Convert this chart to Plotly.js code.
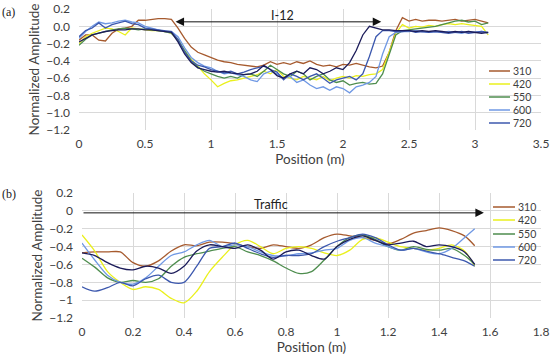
<!DOCTYPE html>
<html><head><meta charset="utf-8">
<script src="https://cdn.plot.ly/plotly-3.0.1.min.js"></script>
<style>html,body{margin:0;padding:0;background:#fff}#chart{width:550px;height:355px}</style>
</head><body><div id="chart"></div>
<script>
// ---------- DATA ----------
const seriesNames = ['310', '420', '550', '600', '720'];

// Panel (a) positions (m)
const xA = [0,0.05,0.1,0.15,0.2,0.25,0.3,0.35,0.4,0.45,0.5,0.55,0.6,0.65,0.7,0.75,0.8,0.85,0.9,0.95,
  1.0,1.05,1.1,1.15,1.2,1.25,1.3,1.35,1.4,1.45,1.5,1.55,1.6,1.65,1.7,1.75,1.8,1.85,1.9,1.95,
  2.0,2.05,2.1,2.15,2.2,2.25,2.3,2.35,2.4,2.45,2.5,2.55,2.6,2.65,2.7,2.75,2.8,2.85,2.9,2.95,3.0,3.05,3.1];

const a310 = [-0.16,-0.10,-0.10,-0.16,-0.17,-0.08,-0.03,-0.02,0.00,0.07,0.07,0.08,0.09,0.09,0.08,
  -0.02,-0.14,-0.24,-0.30,-0.33,-0.36,-0.39,-0.41,-0.42,-0.44,-0.45,-0.46,-0.47,-0.45,-0.41,
  -0.44,-0.42,-0.44,-0.41,-0.43,-0.40,-0.44,-0.46,-0.45,-0.47,-0.44,-0.45,-0.43,-0.45,-0.47,
  -0.48,-0.46,-0.30,-0.05,0.10,0.06,0.08,0.06,0.07,0.07,0.06,0.07,0.08,0.06,0.07,0.08,0.06,0.04];
const a420 = [-0.20,-0.12,-0.08,-0.05,-0.02,-0.03,-0.06,-0.10,-0.02,-0.03,-0.04,-0.05,-0.05,-0.06,-0.08,
  -0.15,-0.28,-0.38,-0.46,-0.55,-0.62,-0.70,-0.66,-0.63,-0.62,-0.60,-0.58,-0.56,-0.52,-0.55,
  -0.50,-0.58,-0.60,-0.62,-0.58,-0.60,-0.62,-0.58,-0.63,-0.60,-0.58,-0.60,-0.57,-0.58,-0.56,
  -0.55,-0.50,-0.30,-0.08,0.02,-0.02,0.00,-0.01,0.01,0.00,0.02,0.03,0.02,0.03,0.02,0.01,0.00,-0.10];
const a550 = [-0.22,-0.15,-0.10,-0.08,-0.06,-0.04,-0.03,-0.02,-0.03,-0.04,-0.03,-0.04,-0.05,-0.06,-0.08,
  -0.16,-0.28,-0.40,-0.47,-0.52,-0.55,-0.58,-0.60,-0.58,-0.60,-0.56,-0.55,-0.58,-0.52,-0.45,
  -0.50,-0.55,-0.58,-0.52,-0.55,-0.62,-0.58,-0.55,-0.62,-0.65,-0.63,-0.68,-0.66,-0.65,-0.67,
  -0.66,-0.55,-0.32,-0.10,-0.05,-0.04,-0.03,-0.02,-0.01,0.00,0.02,0.04,0.06,0.07,0.05,0.06,0.02,0.04];
const a600 = [-0.14,-0.06,0.00,0.05,0.03,0.04,0.06,0.07,0.05,0.04,0.00,-0.02,-0.04,-0.06,-0.06,
  -0.12,-0.25,-0.36,-0.42,-0.46,-0.48,-0.52,-0.55,-0.54,-0.56,-0.58,-0.62,-0.64,-0.55,-0.52,
  -0.55,-0.60,-0.58,-0.65,-0.62,-0.68,-0.72,-0.70,-0.74,-0.70,-0.72,-0.77,-0.70,-0.68,-0.65,
  -0.58,-0.32,-0.12,-0.07,-0.06,-0.06,-0.05,-0.06,-0.07,-0.06,-0.07,-0.06,-0.07,-0.08,-0.06,-0.07,-0.06,-0.08];
const a720 = [-0.12,-0.05,-0.02,0.04,-0.02,0.02,0.04,0.06,0.03,0.02,-0.02,-0.03,-0.04,-0.05,-0.06,
  -0.15,-0.30,-0.40,-0.45,-0.47,-0.50,-0.52,-0.54,-0.52,-0.55,-0.53,-0.50,-0.48,-0.46,-0.50,
  -0.53,-0.62,-0.55,-0.58,-0.62,-0.58,-0.55,-0.60,-0.66,-0.62,-0.60,-0.58,-0.62,-0.55,-0.35,
  -0.12,-0.05,-0.05,-0.06,-0.06,-0.05,-0.07,-0.06,-0.07,-0.06,-0.07,-0.08,-0.07,-0.06,-0.08,-0.07,-0.06,-0.07];
const aDark = [-0.18,-0.14,-0.10,-0.08,-0.06,-0.05,-0.04,-0.04,-0.03,-0.03,-0.04,-0.04,-0.05,-0.06,-0.07,
  -0.18,-0.32,-0.42,-0.48,-0.50,-0.52,-0.53,-0.52,-0.54,-0.55,-0.56,-0.55,-0.52,-0.45,-0.50,
  -0.57,-0.60,-0.55,-0.52,-0.55,-0.48,-0.50,-0.55,-0.52,-0.48,-0.50,-0.42,-0.28,-0.10,0.00,
  -0.02,-0.04,-0.04,-0.05,-0.05,-0.05,-0.06,-0.05,-0.06,-0.05,-0.06,-0.07,-0.06,-0.07,-0.06,-0.07,-0.08,-0.07];

// Panel (b) positions (m)
const xB = [0,0.05,0.1,0.15,0.2,0.25,0.3,0.35,0.4,0.45,0.5,0.55,0.6,0.65,0.7,0.75,0.8,0.85,0.9,0.95,
  1.0,1.05,1.1,1.15,1.2,1.25,1.3,1.35,1.4,1.45,1.5,1.54];

const b310 = [-0.47,-0.46,-0.46,-0.46,-0.58,-0.62,-0.56,-0.45,-0.38,-0.39,-0.35,-0.35,-0.37,-0.40,-0.42,-0.38,
  -0.40,-0.42,-0.38,-0.30,-0.26,-0.28,-0.30,-0.33,-0.37,-0.32,-0.25,-0.22,-0.19,-0.22,-0.28,-0.39];
const b420 = [-0.27,-0.45,-0.68,-0.80,-0.88,-0.85,-0.88,-0.98,-1.03,-0.90,-0.68,-0.52,-0.38,-0.33,-0.40,-0.48,
  -0.42,-0.40,-0.42,-0.47,-0.50,-0.44,-0.32,-0.30,-0.35,-0.40,-0.42,-0.44,-0.42,-0.38,-0.45,-0.62];
const b550 = [-0.53,-0.63,-0.75,-0.80,-0.78,-0.80,-0.76,-0.62,-0.52,-0.48,-0.45,-0.42,-0.40,-0.46,-0.50,-0.56,
  -0.64,-0.70,-0.68,-0.55,-0.40,-0.30,-0.27,-0.32,-0.40,-0.44,-0.40,-0.43,-0.44,-0.42,-0.50,-0.60];
const b600 = [-0.36,-0.55,-0.72,-0.80,-0.82,-0.75,-0.62,-0.50,-0.46,-0.38,-0.33,-0.40,-0.38,-0.40,-0.46,-0.50,
  -0.50,-0.48,-0.47,-0.44,-0.42,-0.33,-0.30,-0.36,-0.40,-0.44,-0.42,-0.46,-0.48,-0.42,-0.30,-0.20];
const b720 = [-0.85,-0.90,-0.86,-0.80,-0.84,-0.76,-0.72,-0.80,-0.80,-0.62,-0.42,-0.40,-0.36,-0.42,-0.48,-0.52,
  -0.50,-0.50,-0.48,-0.40,-0.34,-0.30,-0.26,-0.30,-0.38,-0.44,-0.42,-0.45,-0.48,-0.52,-0.56,-0.62];
const bDark = [-0.47,-0.50,-0.58,-0.64,-0.66,-0.62,-0.64,-0.70,-0.62,-0.45,-0.38,-0.40,-0.42,-0.38,-0.44,-0.54,
  -0.46,-0.44,-0.50,-0.54,-0.40,-0.32,-0.28,-0.33,-0.38,-0.36,-0.34,-0.40,-0.38,-0.40,-0.46,-0.60];

// Axis tick values
const yTicks = [0.2,0,-0.2,-0.4,-0.6,-0.8,-1.0,-1.2];
const xTicksA = [0,0.5,1,1.5,2,2.5,3,3.5];
const xTicksB = [0,0.2,0.4,0.6,0.8,1,1.2,1.4,1.6,1.8];

// Annotation positions (data units)
const arrowA = {from: 0.72, to: 2.29, y: 0.052, label: 'I-12', labelX: 1.54, labelY: 0.125};
const arrowB = {from: 0, to: 1.576, y: -0.022, label: 'Traffic', labelX: 0.74, labelY: 0.072};

// ---------- STYLE ----------
const colors = ['#a65a2e', '#eaf01c', '#4e8d4e', '#6f98e4', '#3c58ae', '#1c1c5a'];
const seriesA = [a310, a420, a550, a600, a720, aDark];
const seriesB = [b310, b420, b550, b600, b720, bDark];
const W = 550, H = 355, L = 79, R = 9, T = 9, B = 37;
const plotW = W - L - R, plotH = H - T - B;
// pixel frame of each panel
const aTop = T, aBot = 130, bTop = 193, bBot = 318, bLeft = 82;

const traces = [];
seriesA.forEach((ys, i) => traces.push({
  x: xA, y: ys, xaxis: 'x', yaxis: 'y', type: 'scatter', mode: 'lines',
  name: seriesNames[i] || '', line: {color: colors[i], width: 1.3}, showlegend: false, hoverinfo: 'skip'
}));
seriesB.forEach((ys, i) => traces.push({
  x: xB, y: ys, xaxis: 'x2', yaxis: 'y2', type: 'scatter', mode: 'lines',
  name: seriesNames[i] || '', line: {color: colors[i], width: 1.3, shape: 'spline', smoothing: 0.8},
  showlegend: false, hoverinfo: 'skip'
}));

const fam = 'Lato, "Liberation Sans", sans-serif';
const tickFont = {family: fam, size: 12, color: '#404040'};
const titleFont = {family: fam, size: 13.5, color: '#404040'};
const gridC = '#d9d9d9';

function xAxisDef(range, ticks, domain, anchor) {
  return {domain: domain, anchor: anchor, range: range, tickmode: 'array', tickvals: ticks,
    showgrid: true, gridcolor: gridC, gridwidth: 1, zeroline: false, showline: false, ticks: '',
    tickfont: tickFont, ticklabelstandoff: 5, ticklabeloverflow: 'allow', fixedrange: true,
    title: {text: 'Position (m)', font: titleFont, standoff: 1}};
}
function yAxisDef(domain, anchor, fmt) {
  const ax = {domain: domain, anchor: anchor, range: [-1.2, 0.2005], tickmode: 'array', tickvals: yTicks,
    showgrid: true, gridcolor: gridC, gridwidth: 1, zeroline: false, showline: false, ticks: '',
    tickfont: tickFont, ticklabelstandoff: 8, ticklabeloverflow: 'allow', fixedrange: true,
    title: {text: 'Normalized Amplitude', font: titleFont, standoff: 3}};
  if (fmt) ax.tickformat = fmt;
  return ax;
}

const annotations = [];
const shapes = [];
// panel labels
annotations.push({xref: 'paper', yref: 'paper', x: -L / plotW, y: (H - B - 12) / plotH, xanchor: 'left', yanchor: 'middle',
  text: '(a)', showarrow: false, font: {family: '"Liberation Serif", serif', size: 12, color: '#222'}});
annotations.push({xref: 'paper', yref: 'paper', x: -L / plotW, y: (H - B - 194) / plotH, xanchor: 'left', yanchor: 'middle',
  text: '(b)', showarrow: false, font: {family: '"Liberation Serif", serif', size: 12, color: '#222'}});
// arrows
annotations.push({xref: 'x', yref: 'y', axref: 'x', ayref: 'y', x: arrowA.to, y: arrowA.y, ax: arrowA.from, ay: arrowA.y,
  text: '', showarrow: true, arrowhead: 2, startarrowhead: 2, arrowside: 'end+start', arrowsize: 1.7, startarrowsize: 1.7,
  arrowwidth: 1, arrowcolor: '#111', standoff: 0, startstandoff: 0});
annotations.push({xref: 'x', yref: 'y', x: arrowA.labelX, y: arrowA.labelY, text: arrowA.label, showarrow: false,
  font: {family: fam, size: 12.5, color: '#222'}});
annotations.push({xref: 'x2', yref: 'y2', axref: 'x2', ayref: 'y2', x: arrowB.to, y: arrowB.y, ax: arrowB.from, ay: arrowB.y,
  text: '', showarrow: true, arrowhead: 2, arrowsize: 1.7, arrowwidth: 1, arrowcolor: '#111', standoff: 0});
annotations.push({xref: 'x2', yref: 'y2', x: arrowB.labelX, y: arrowB.labelY, text: arrowB.label, showarrow: false,
  font: {family: fam, size: 12.5, color: '#222'}});

// legends (drawn to match Excel's compact spacing)
function addLegend(xr, yr, left, top, bottom, right, lineX0, lineX1, textX, rows) {
  seriesNames.forEach((nm, i) => {
    const yd = (bottom - rows[i]) / (bottom - top);
    shapes.push({type: 'line', xref: xr + ' domain', yref: yr + ' domain',
      x0: (lineX0 - left) / (right - left), x1: (lineX1 - left) / (right - left), y0: yd, y1: yd,
      line: {color: colors[i], width: 1.5}});
    annotations.push({xref: xr + ' domain', yref: yr + ' domain', x: (textX - left) / (right - left), y: yd,
      xanchor: 'left', yanchor: 'middle', text: nm, showarrow: false, borderpad: 0,
      font: {family: fam, size: 10.5, color: '#404040'}});
  });
}
addLegend('x', 'y', L, aTop, aBot, W - R, 489, 510, 512, [71, 84, 97, 110, 123]);
addLegend('x2', 'y2', bLeft, bTop, bBot, W - R, 493, 515, 517, [207, 220, 234, 247, 260]);

const layout = {
  width: W, height: H, margin: {l: L, r: R, t: T, b: B, pad: 0},
  paper_bgcolor: '#ffffff', plot_bgcolor: '#ffffff', showlegend: false,
  font: tickFont,
  xaxis: xAxisDef([0, 3.5], xTicksA, [0, 1], 'y'),
  yaxis: yAxisDef([(H - B - aBot) / plotH, 1], 'x', '.1f'),
  xaxis2: xAxisDef([0, 1.8], xTicksB, [(bLeft - L) / plotW, 1], 'y2'),
  yaxis2: yAxisDef([0, (bBot - bTop) / plotH], 'x2', null),
  annotations: annotations, shapes: shapes
};

Plotly.newPlot('chart', traces, layout, {staticPlot: true, displayModeBar: false});
</script>
</body></html>
